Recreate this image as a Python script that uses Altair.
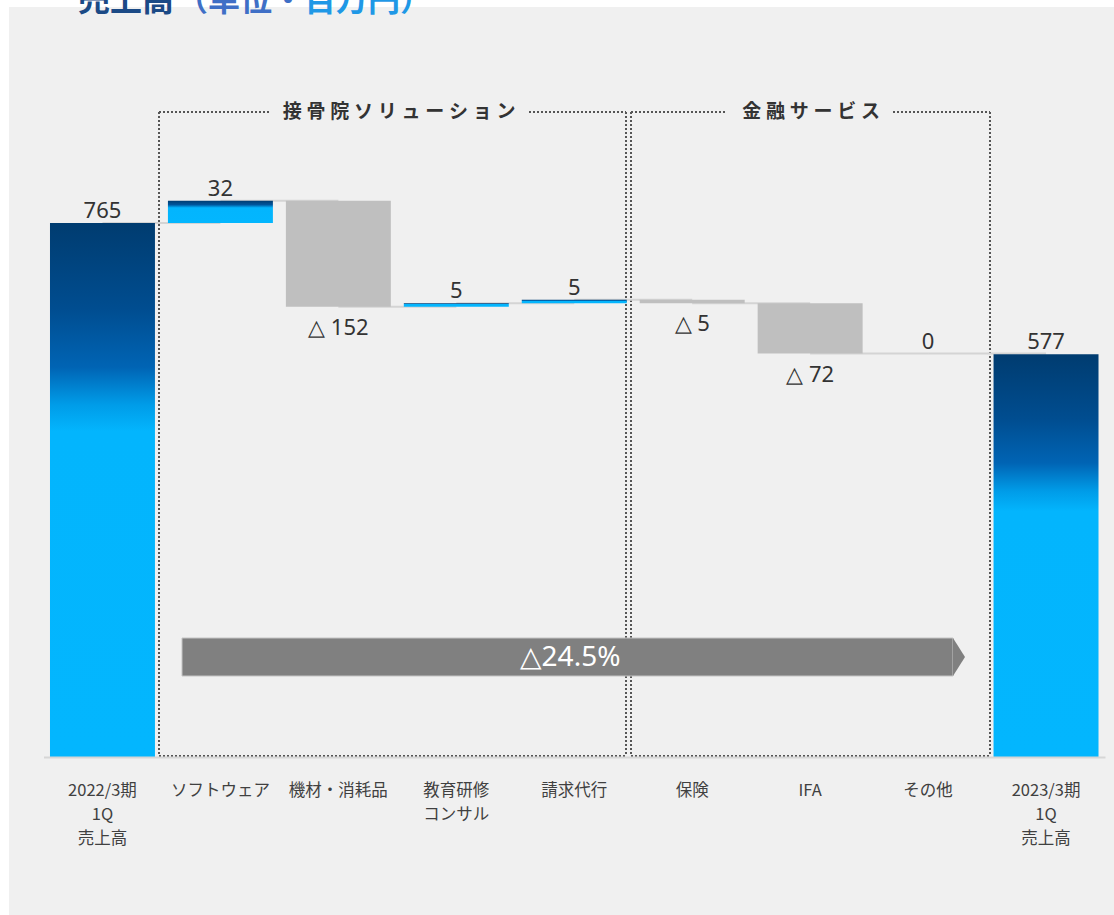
import altair as alt
import pandas as pd

# ---- data ----
categories = ["2022/3期\n1Q\n売上高", "ソフトウェア", "機材・消耗品", "教育研修\nコンサル",
              "請求代行", "保険", "IFA", "その他", "2023/3期\n1Q\n売上高"]
start_total = 765
changes = [32, -152, 5, 5, -5, -72, 0]
end_total = 577
growth_label = "△24.5%"
group_names = ["接骨院ソリューション", "金融サービス"]

# ---- build waterfall table ----
rows = [dict(cat=categories[0], begin=0, end=start_total, kind="total", label=str(start_total))]
level = start_total
for c, v in zip(categories[1:-1], changes):
    b, e = level, level + v
    kind = "up" if v > 0 else ("down" if v < 0 else "zero")
    lab = str(v) if v >= 0 else "△ " + str(abs(v))
    rows.append(dict(cat=c, begin=b, end=e, kind=kind, label=lab))
    level = e
rows.append(dict(cat=categories[-1], begin=0, end=end_total, kind="total", label=str(end_total)))
df = pd.DataFrame(rows)
df["top"] = df[["begin", "end"]].max(axis=1)
df["bottom"] = df[["begin", "end"]].min(axis=1)
df["next"] = list(categories[1:]) + [None]
conn = df.iloc[:-1].copy()

one = pd.DataFrame({"k": [0]})

xscale = alt.Scale(domain=categories, range=[43.5, 1105], paddingInner=0.11, paddingOuter=0.055)
yscale = alt.Scale(domain=[0, 1084.5], nice=False, zero=True)

X = alt.X("cat:N", sort=categories, scale=xscale,
          axis=alt.Axis(title=None, labelAngle=0, ticks=False, tickSize=0, labelPadding=25,
                        labelExpr="split(datum.value, '\\n')", labelFont="Noto Sans CJK JP",
                        labelFontSize=16.5, labelColor="#404040", labelLineHeight=24,
                        labelBaseline="top", domainColor="#d6d6d6", domainWidth=2, zindex=1))

def grad(stops):
    return alt.Gradient(gradient="linear", x1=0, x2=0, y1=0, y2=1,
                        stops=[alt.GradientStop(offset=o, color=c) for o, c in stops])

total_grad = grad([(0, "#003c70"), (0.16, "#004d90"), (0.27, "#0064b4"),
                   (0.34, "#009ce8"), (0.39, "#03b5fd"), (1, "#03b6fe")])
up_grad = grad([(0, "#003c70"), (0.18, "#00559c"), (0.32, "#03b5fd"), (1, "#03b6fe")])

base = alt.Chart(df)

panel = alt.Chart(one).mark_rect(color="#f0f0f0").encode(
    x=alt.value(9), x2=alt.value(1114), y=alt.value(7), y2=alt.value(915))

def seg(x1, x2, y1, y2):
    return alt.Chart(one).mark_rule(color="#555555", strokeWidth=2, strokeDash=[2, 2]).encode(
        x=alt.value(x1), x2=alt.value(x2), y=alt.value(y1), y2=alt.value(y2))

boxes = [
    seg(159, 159, 112, 756), seg(626, 626, 112, 756), seg(159, 626, 756, 756),
    seg(159, 270, 112, 112), seg(529, 626, 112, 112),
    seg(631, 631, 112, 756), seg(990, 990, 112, 756), seg(631, 990, 756, 756),
    seg(631, 727, 112, 112), seg(893, 990, 112, 112),
]

spaced = lambda s: "\u2005".join(s)
group_text = [
    alt.Chart(one).mark_text(text=spaced(group_names[0]), font="Noto Sans CJK JP", fontSize=19,
                             fontWeight="bold", color="#333333", align="center", baseline="middle").encode(
        x=alt.value(399), y=alt.value(112)),
    alt.Chart(one).mark_text(text=spaced(group_names[1]), font="Noto Sans CJK JP", fontSize=19,
                             fontWeight="bold", color="#333333", align="center", baseline="middle").encode(
        x=alt.value(811), y=alt.value(112)),
]

title_parts = [
    ("売上高", 78, "#1b4a86"),
    ("（単位・", 176, "#3f6fc6"),
    ("百万円）", 304, "#1f98e6"),
]
title_layers = [
    alt.Chart(one).mark_text(text=t, font="Noto Sans CJK JP", fontSize=32, fontWeight="bold",
                             color=c, align="left", baseline="alphabetic").encode(
        x=alt.value(x), y=alt.value(11))
    for t, x, c in title_parts
]

connectors = alt.Chart(conn).mark_rule(color="#d4d4d4", strokeWidth=2).encode(
    x=X, x2="next:N", y=alt.Y("end:Q", scale=yscale, axis=None))

bars_total = base.transform_filter("datum.kind == 'total'").mark_bar(color=total_grad).encode(
    x=X, y=alt.Y("begin:Q", scale=yscale, axis=None), y2="end:Q")
bars_up = base.transform_filter("datum.kind == 'up'").mark_bar(color=up_grad).encode(
    x=X, y=alt.Y("begin:Q", scale=yscale, axis=None), y2="end:Q")
bars_down = base.transform_filter("datum.kind == 'down'").mark_bar(color="#bfbfbf").encode(
    x=X, y=alt.Y("begin:Q", scale=yscale, axis=None), y2="end:Q")

labels_above = base.transform_filter("datum.kind != 'down'").mark_text(
    font="Noto Sans", fontSize=22, color="#333333", baseline="alphabetic", dy=-5).encode(
    x=X, y=alt.Y("top:Q", scale=yscale, axis=None), text="label:N")
labels_below = base.transform_filter("datum.kind == 'down'").mark_text(
    font="Noto Sans", fontSize=22, color="#333333", baseline="alphabetic", dy=28).encode(
    x=X, y=alt.Y("bottom:Q", scale=yscale, axis=None), text="label:N")

arrow_body = alt.Chart(one).mark_rect(color="#808080", stroke="#c4c4c4", strokeWidth=1).encode(
    x=alt.value(182), x2=alt.value(953), y=alt.value(638), y2=alt.value(676))
arrow_tip = alt.Chart(one).mark_point(shape="M-0.316,-1L0.316,0L-0.316,1Z", filled=True,
                                      color="#808080", opacity=1, size=1444).encode(
    x=alt.value(959), y=alt.value(657))
arrow_text = alt.Chart(one).mark_text(text=growth_label, font="Noto Sans", fontSize=28,
                                      color="white", align="center", baseline="middle").encode(
    x=alt.value(570), y=alt.value(658))

chart = alt.layer(
    panel, *title_layers, *boxes, *group_text, connectors,
    bars_total, bars_up, bars_down, labels_above, labels_below,
    arrow_body, arrow_tip, arrow_text,
).properties(
    width=1114, height=757,
    autosize=alt.AutoSizeParams(type="none"),
    padding={"left": 0, "top": 0, "right": 0, "bottom": 158},
    background="white",
).configure_view(stroke=None)

chart.save("out.html", embed_options={"renderer": "svg", "actions": False})
